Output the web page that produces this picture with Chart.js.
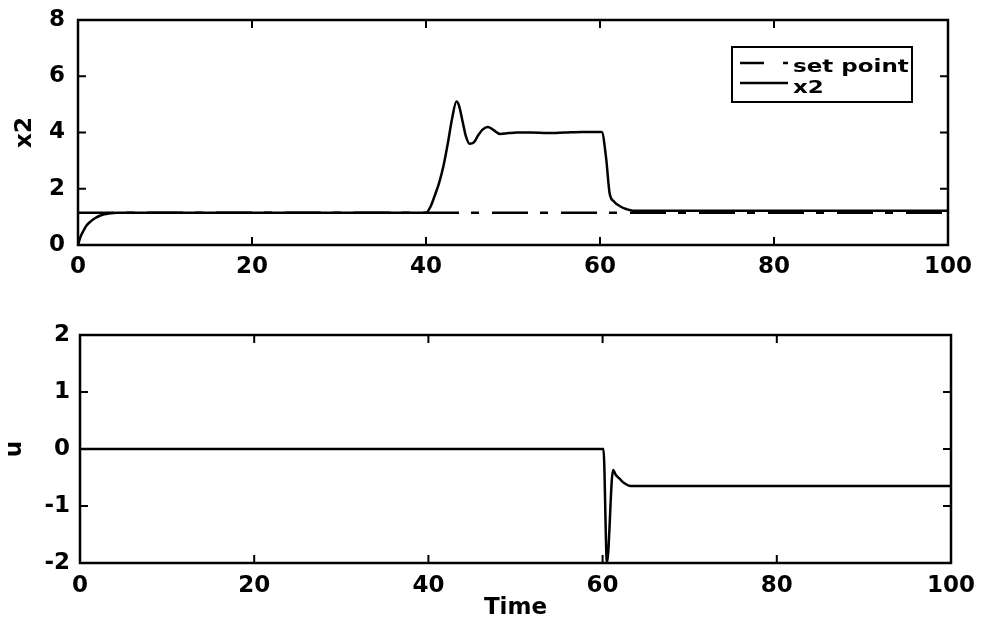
<!DOCTYPE html>
<html>
<head>
<meta charset="utf-8">
<script src="https://cdn.jsdelivr.net/npm/chart.js@4.4.0/dist/chart.umd.min.js"></script>
<style>
  html, body { margin: 0; padding: 0; background: #fff; }
  #wrap { position: relative; width: 986px; height: 622px; }
  canvas { position: absolute; left: 0; }
</style>
</head>
<body>
<div id="wrap">
  <canvas id="topChart" width="986" height="300" style="top:0"></canvas>
  <canvas id="bottomChart" width="986" height="322" style="top:300px"></canvas>
</div>
<script>
// tick labels
const timeTicks = [0, 20, 40, 60, 80, 100];
const x2Ticks = [0, 2, 4, 6, 8];
const uTicks = [-2, -1, 0, 1, 2];

// set point
const setPointTime = [0, 100];
const setPointValue = [1.15, 1.15];

// x2 response
const x2Time = [0, 0.3, 0.7, 1, 1.5, 2, 2.5, 3, 3.5, 4.5, 40, 40.5, 41, 41.5, 42, 42.5, 43, 43.5, 43.8,
  44.2, 44.6, 45, 45.5, 46, 46.5, 47.1, 47.7, 48.5, 49.5, 50.5, 52, 54, 56, 58, 60.2, 60.7,
  61.1, 61.6, 62.3, 63, 63.8, 100];
const x2Value = [0, 0.3, 0.55, 0.7, 0.85, 0.96, 1.04, 1.09, 1.12, 1.15, 1.15, 1.35, 1.75, 2.2, 2.8, 3.6, 4.5, 5.1, 4.95,
  4.4, 3.85, 3.6, 3.65, 3.9, 4.1, 4.2, 4.1, 3.95, 3.98, 4.0, 4.0, 3.98, 4.0, 4.02, 4.02, 3.1,
  1.85, 1.55, 1.38, 1.28, 1.22, 1.22];

// control input u
const uTime = [0, 60.1, 60.5, 61.2, 61.5, 62, 62.5, 63.2, 100];
const uValue = [0, 0, -2.0, -0.37, -0.45, -0.53, -0.6, -0.65, -0.65];

const FONT = { family: '"DejaVu Sans", sans-serif', size: 23, weight: 'bold' };
const toPoints = (xs, ys) => xs.map((x, i) => ({ x: x, y: ys[i] }));
const fixTicks = list => scale => { scale.ticks = list.map(v => ({ value: v })); };

const framePlugin = {
  id: 'frame',
  afterDatasetsDraw(chart) {
    const { ctx, chartArea: a, scales: { x, y } } = chart;
    ctx.save();
    ctx.strokeStyle = '#000';
    ctx.lineWidth = 2.5;
    ctx.strokeRect(a.left, a.top, a.right - a.left, a.bottom - a.top);
    ctx.lineWidth = 2;
    const len = 8;
    ctx.beginPath();
    x.ticks.forEach(t => {
      const px = x.getPixelForValue(t.value);
      if (px <= a.left + 1 || px >= a.right - 1) return;
      ctx.moveTo(px, a.bottom); ctx.lineTo(px, a.bottom - len);
      ctx.moveTo(px, a.top); ctx.lineTo(px, a.top + len);
    });
    y.ticks.forEach(t => {
      const py = y.getPixelForValue(t.value);
      if (py <= a.top + 1 || py >= a.bottom - 1) return;
      ctx.moveTo(a.left, py); ctx.lineTo(a.left + len, py);
      ctx.moveTo(a.right, py); ctx.lineTo(a.right - len, py);
    });
    ctx.stroke();
    ctx.restore();
  }
};

// MATLAB-style boxed legend inside the axes
const legendDash = [[24, 19, 5, 40], []];
const legendPlugin = {
  id: 'boxLegend',
  afterDraw(chart) {
    const { ctx, chartArea: a } = chart;
    const boxL = a.right - 216, boxT = a.top + 27, boxW = 180, boxH = 55;
    ctx.save();
    ctx.fillStyle = '#fff';
    ctx.fillRect(boxL, boxT, boxW, boxH);
    ctx.strokeStyle = '#000';
    ctx.lineWidth = 2;
    ctx.strokeRect(boxL, boxT, boxW, boxH);
    ctx.fillStyle = '#000';
    ctx.textBaseline = 'alphabetic';
    chart.data.datasets.forEach((ds, i) => {
      const ly = boxT + 16 + i * 20;
      ctx.setLineDash(legendDash[i]);
      ctx.lineWidth = ds.borderWidth;
      ctx.beginPath();
      ctx.moveTo(boxL + 8, ly);
      ctx.lineTo(boxL + 56, ly);
      ctx.stroke();
      ctx.setLineDash([]);
      ctx.save();
      ctx.translate(boxL + 61, boxT + 25 + i * 21);
      ctx.scale(1, 0.8);
      ctx.font = 'bold 23px "DejaVu Sans", sans-serif';
      ctx.fillText(ds.label, 0, 0);
      ctx.restore();
    });
    ctx.restore();
  }
};

// gap between axis and labels is given as an invisible tick length, so it does not push the plot area down
function axisOpts(min, max, ticks, gap, extra) {
  return Object.assign({
    type: 'linear',
    min: min,
    max: max,
    afterBuildTicks: fixTicks(ticks),
    grid: { display: true, drawOnChartArea: false, drawTicks: true, tickLength: gap, color: 'rgba(0,0,0,0)' },
    border: { display: false },
    ticks: { color: '#000', font: FONT, autoSkip: false, maxRotation: 0, padding: 3 }
  }, extra);
}

const lineStyle = { borderColor: '#000', borderWidth: 2.5, pointRadius: 0, fill: false, cubicInterpolationMode: 'monotone' };

new Chart(document.getElementById('topChart'), {
  type: 'line',
  data: {
    datasets: [
      Object.assign({ label: 'set point', data: toPoints(setPointTime, setPointValue), borderDash: [36, 12, 8, 13] }, lineStyle),
      Object.assign({ label: 'x2', data: toPoints(x2Time, x2Value) }, lineStyle)
    ]
  },
  options: {
    responsive: false,
    animation: false,
    events: [],
    layout: { padding: { top: 20, right: 38, left: 0, bottom: 0 } },
    plugins: { legend: { display: false }, tooltip: { enabled: false } },
    scales: {
      x: axisOpts(0, 100, timeTicks, 5, {
        afterFit: s => { s.height = 55; }
      }),
      y: axisOpts(0, 8, x2Ticks, 10, {
        afterFit: s => { s.width = 78; },
        title: { display: true, text: 'x2', color: '#000', font: FONT, padding: { top: 11, bottom: 0 } }
      })
    }
  },
  plugins: [framePlugin, legendPlugin]
});

new Chart(document.getElementById('bottomChart'), {
  type: 'line',
  data: {
    datasets: [
      Object.assign({ label: 'u', data: toPoints(uTime, uValue) }, lineStyle)
    ]
  },
  options: {
    responsive: false,
    animation: false,
    events: [],
    layout: { padding: { top: 35, right: 35, left: 0, bottom: 0 } },
    plugins: { legend: { display: false }, tooltip: { enabled: false } },
    scales: {
      x: axisOpts(0, 100, timeTicks, 6, {
        afterFit: s => { s.height = 59; },
        title: { display: true, text: 'Time', color: '#000', font: FONT, padding: { top: 0, bottom: 0 } }
      }),
      y: axisOpts(-2, 2, uTicks, 7, {
        afterFit: s => { s.width = 80; },
        title: { display: true, text: 'u', color: '#000', font: FONT, padding: { top: 1, bottom: 0 } }
      })
    }
  },
  plugins: [framePlugin]
});
</script>
</body>
</html>
